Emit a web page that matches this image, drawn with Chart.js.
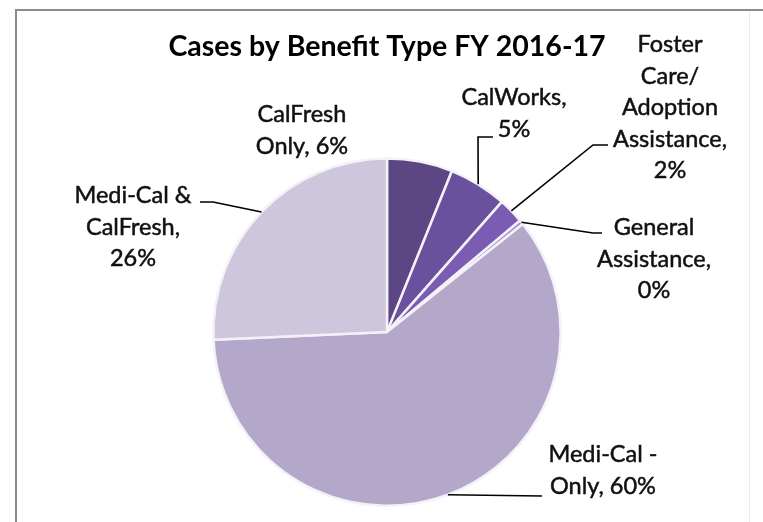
<!DOCTYPE html>
<html>
<head>
<meta charset="utf-8">
<script src="https://cdn.jsdelivr.net/npm/chart.js@4.4.1/dist/chart.umd.min.js"></script>
<style>
  html, body { margin: 0; padding: 0; background: #fff; }
  #wrap { position: relative; width: 763px; height: 522px; }
</style>
</head>
<body>
<div id="wrap"><canvas id="benefitChart" width="763" height="522"></canvas></div>
<script>
// Dados (percentual de casos por tipo de benefício)
const categories = ['CalFresh Only', 'CalWorks', 'Foster Care/ Adoption Assistance', 'General Assistance', 'Medi-Cal - Only', 'Medi-Cal & CalFresh'];
const caseShares = [6.1, 5.4, 2.4, 0.4, 60.0, 25.7];
const sliceColors = ['#5c4784', '#6a519e', '#7a5db3', '#9f8ccc', '#b3a8c9', '#cdc6dc'];
const chartTitle = 'Cases by Benefit Type FY 2016-17';

// Posição dos rótulos (como no Excel): linhas de texto, centro x, baseline da 1a linha, linha guia
const labelLayout = [
    { lines: ['CalFresh', 'Only, {p}'], x: 302, y: 122 },
    { lines: ['CalWorks,', '{p}'], x: 514, y: 105, path: [[478, 137], [493, 137]] },
    { lines: ['Foster', 'Care/', 'Adoption', 'Assistance,', '{p}'], x: 670, y: 52, path: [[593, 145], [608, 145]] },
    { lines: ['General', 'Assistance,', '{p}'], x: 654, y: 235, path: [[593, 233], [602, 233]] },
    { lines: ['Medi-Cal -', 'Only, {p}'], x: 603, y: 462, path: [[542, 496]] },
    { lines: ['Medi-Cal &', 'CalFresh,', '{p}'], x: 133, y: 203, path: [[213, 202], [200, 202]] }
];

const labelFont = '23.5px Lato, "Open Sans", sans-serif';
const labelLineHeight = 31.5;

// Plugin para desenhar os rótulos com linhas guia
const pieLabelsPlugin = {
    id: 'pieLabels',
    afterDatasetsDraw(chart) {
        const ctx = chart.ctx;
        const meta = chart.getDatasetMeta(0);
        const data = chart.data.datasets[0].data;
        const total = data.reduce((a, b) => a + b, 0);

        ctx.save();
        ctx.strokeStyle = '#000';
        ctx.lineWidth = 1.6;
        meta.data.forEach((arc, i) => {
            const layout = labelLayout[i];
            if (!layout.path) return;
            const props = arc.getProps(['x', 'y', 'startAngle', 'endAngle', 'outerRadius'], true);
            const mid = (props.startAngle + props.endAngle) / 2;
            const px = props.x + Math.cos(mid) * props.outerRadius;
            const py = props.y + Math.sin(mid) * props.outerRadius;
            ctx.beginPath();
            ctx.moveTo(px, py);
            layout.path.forEach(pt => ctx.lineTo(pt[0], pt[1]));
            ctx.stroke();
        });

        ctx.fillStyle = '#111';
        ctx.strokeStyle = '#111';
        ctx.lineWidth = 0.5; // engrossa um pouco o texto, como no original
        ctx.font = labelFont;
        ctx.textAlign = 'center';
        ctx.textBaseline = 'alphabetic';
        labelLayout.forEach((layout, i) => {
            const pct = Math.round(data[i] / total * 100) + '%';
            layout.lines.forEach((line, j) => {
                const txt = line.replace('{p}', pct);
                const ty = layout.y + j * labelLineHeight;
                ctx.fillText(txt, layout.x, ty);
                ctx.strokeText(txt, layout.x, ty);
            });
        });
        ctx.restore();
    }
};

// Moldura cinza do gráfico
const framePlugin = {
    id: 'frame',
    beforeDraw(chart) {
        const ctx = chart.ctx;
        ctx.save();
        ctx.fillStyle = '#fff';
        ctx.fillRect(0, 0, chart.width, chart.height);
        ctx.strokeStyle = '#8c8c8c';
        ctx.lineWidth = 2;
        ctx.beginPath();
        ctx.moveTo(16, 530);
        ctx.lineTo(16, 10);
        ctx.lineTo(770, 10);
        ctx.stroke();
        ctx.strokeStyle = '#ececec';
        ctx.lineWidth = 1;
        ctx.beginPath();
        ctx.moveTo(749.5, 11);
        ctx.lineTo(749.5, 522);
        ctx.stroke();
        ctx.restore();
    }
};

new Chart(document.getElementById('benefitChart').getContext('2d'), {
    type: 'pie',
    data: {
        labels: categories,
        datasets: [{
            data: caseShares,
            backgroundColor: sliceColors,
            borderColor: '#f4f1f8',
            borderWidth: 2.5,
            hoverOffset: 0
        }]
    },
    options: {
        responsive: false,
        animation: false,
        layout: {
            padding: { left: 20, right: 9, top: 0, bottom: 15 }
        },
        plugins: {
            legend: { display: false },
            tooltip: { enabled: false },
            title: {
                display: true,
                text: chartTitle,
                color: '#000',
                font: { family: 'Lato, "Open Sans", sans-serif', size: 28.5, weight: 'bold' },
                padding: { top: 30, bottom: 93 }
            }
        }
    },
    plugins: [framePlugin, pieLabelsPlugin]
});
</script>
</body>
</html>
